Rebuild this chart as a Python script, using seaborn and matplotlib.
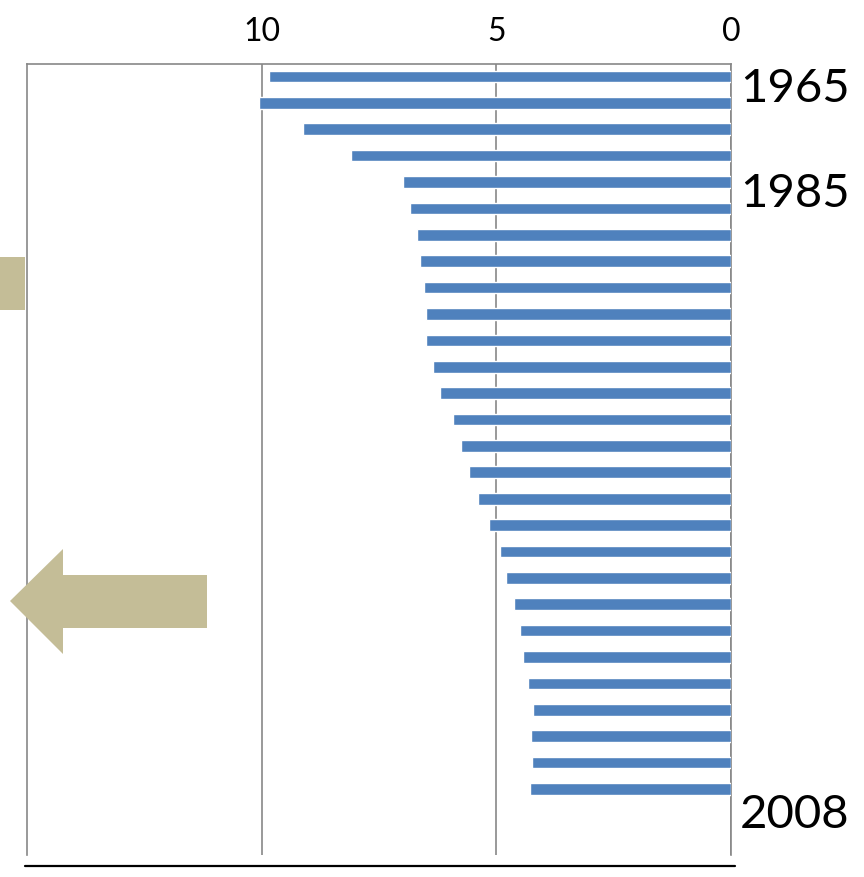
import pandas as pd
import matplotlib.pyplot as plt
import seaborn as sns
from matplotlib.patches import Polygon
from matplotlib.lines import Line2D
from matplotlib.transforms import blended_transform_factory


##---------------------------------------- Datos ----------------------------------------
valores = [9.85, 10.06, 9.12, 8.10, 6.99, 6.83, 6.68, 6.62, 6.54, 6.49,
           6.49, 6.35, 6.19, 5.93, 5.75, 5.59, 5.39, 5.16, 4.93, 4.79,
           4.62, 4.49, 4.43, 4.33, 4.22, 4.26, 4.24, 4.29]
barras = list(range(len(valores)))
etiquetas_anio = ["1965", "1985", "2008"]
ticks_x = [0, 5, 10]

df = pd.DataFrame({"barra": barras, "valor": valores})

## posiciones (en unidades de barra) de las etiquetas de anio
pos_anio = [0.45, 4.4, 27.95]

##---------------------------------------- Grafico ----------------------------------------
sns.set_style("white")
plt.rcParams["font.family"] = ["Lato", "DejaVu Sans"]

W, H = 864, 878
fig = plt.figure(figsize=(W / 100, H / 100), dpi=100)
ax = fig.add_axes([27 / W, 22 / H, 704 / W, 791 / H])

sns.barplot(data=df, x="valor", y="barra", orient="h", color="#4F81BD",
            width=0.44, saturation=1, ax=ax, zorder=3)

ax.set_xlim(15, 0)
ax.set_ylim(29.5, -0.47)
ax.set_xticks(ticks_x)
ax.set_xticklabels([str(t) for t in ticks_x])
ax.xaxis.tick_top()
ax.tick_params(axis="x", length=0, pad=13, labelsize=23, colors="black")
ax.set_yticks([])
ax.set_xlabel("")
ax.set_ylabel("")

ax.grid(axis="x", color="#878787", linewidth=1.2, zorder=0)
for lado in ["top", "left", "right"]:
    ax.spines[lado].set_color("#878787")
    ax.spines[lado].set_linewidth(1.2)
ax.spines["bottom"].set_visible(False)

trans = blended_transform_factory(ax.transAxes, ax.transData)
for etiqueta, pos in zip(etiquetas_anio, pos_anio):
    ax.text(1.013, pos, etiqueta, transform=trans, ha="left", va="center",
            fontsize=34, color="black")

## decoraciones: bloque y flecha color arena, linea inferior
def px(x, y):
    return (x / W, 1 - y / H)

color_arena = "#C4BD97"
fig.add_artist(Polygon([px(0, 258), px(25, 258), px(25, 311), px(0, 311)],
                       closed=True, facecolor=color_arena, edgecolor="none",
                       transform=fig.transFigure))
flecha = [px(10, 602), px(63, 550), px(63, 576), px(207, 576),
          px(207, 629), px(63, 629), px(63, 655)]
fig.add_artist(Polygon(flecha, closed=True, facecolor=color_arena,
                       edgecolor="none", transform=fig.transFigure))
fig.add_artist(Line2D([25 / W, 735 / W], [1 - 867 / H] * 2, color="black",
                      linewidth=1.6, transform=fig.transFigure))

plt.savefig("out.png", dpi=100)
